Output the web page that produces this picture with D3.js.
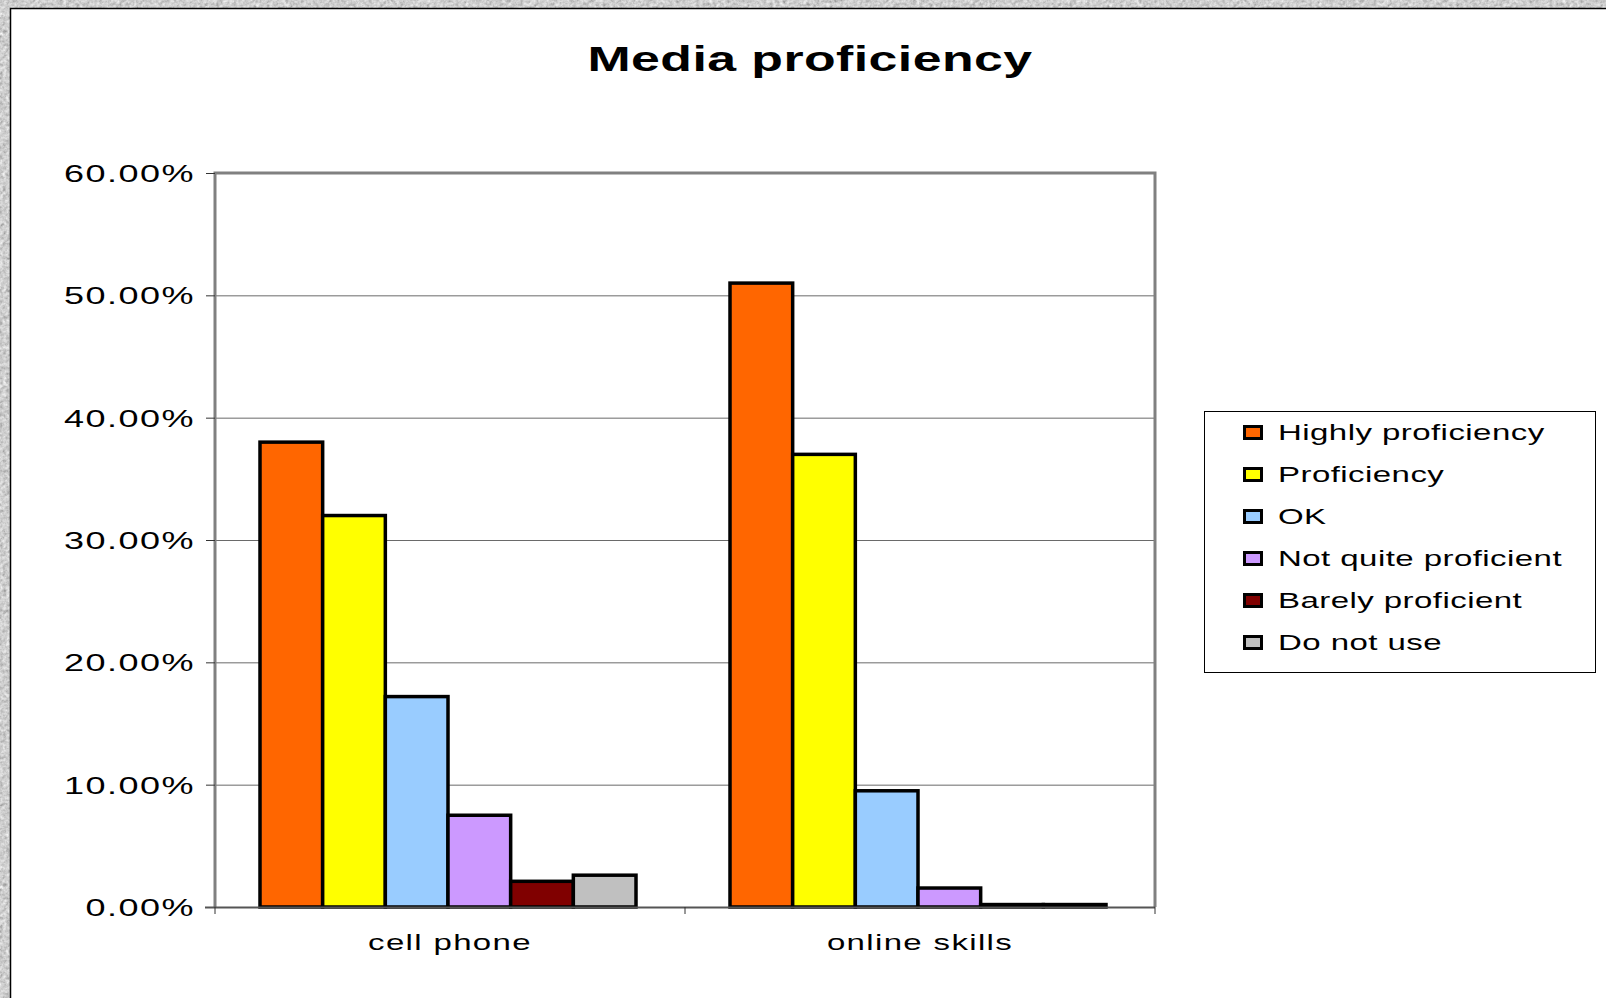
<!DOCTYPE html>
<html>
<head>
<meta charset="utf-8">
<script src="https://cdn.jsdelivr.net/npm/d3@7"></script>
<style>
  html, body { margin: 0; padding: 0; background: #a9a9a9; }
  svg { display: block; }
  text { font-family: "Liberation Sans", Arial, sans-serif; fill: #000; }
</style>
</head>
<body>
<svg id="chart" width="1606" height="998"></svg>
<script>
// Chart data
const categories = ["cell phone", "online skills"];
const seriesNames = ["Highly proficiency", "Proficiency", "OK", "Not quite proficient", "Barely proficient", "Do not use"];
const seriesColors = ["#FF6600", "#FFFF00", "#99CCFF", "#CC99FF", "#800000", "#C0C0C0"];
const cellPhoneValues = [0.38, 0.32, 0.172, 0.075, 0.021, 0.026];
const onlineSkillsValues = [0.51, 0.37, 0.095, 0.0155, 0.002, 0.002];
const yTickValues = [0, 0.1, 0.2, 0.3, 0.4, 0.5, 0.6];
const titleText = "Media proficiency";

const valuesByCategory = [cellPhoneValues, onlineSkillsValues];
const rows = categories.map((c, i) => ({
  category: c,
  values: seriesNames.map((s, j) => ({ series: s, color: seriesColors[j], value: valuesByCategory[i][j] }))
}));

const svg = d3.select("#chart");
const W = 1606, H = 998;
const SX = 1.5; // wide text rendering

// Textured slide background
const defs = svg.append("defs");
const f = defs.append("filter").attr("id", "granite").attr("x", 0).attr("y", 0).attr("width", "100%").attr("height", "100%");
f.append("feTurbulence").attr("type", "fractalNoise").attr("baseFrequency", 0.3).attr("numOctaves", 3).attr("result", "n");
f.append("feColorMatrix").attr("in", "n").attr("type", "matrix")
  .attr("values", "0.4 0.4 0.4 0 0.02  0.4 0.4 0.4 0 0.02  0.4 0.4 0.4 0 0.02  0 0 0 0 1");
svg.append("rect").attr("width", W).attr("height", H).attr("filter", "url(#granite)");

// White chart panel
svg.append("rect").attr("x", 10.5).attr("y", 8.5).attr("width", W).attr("height", H)
  .attr("fill", "#fff").attr("stroke", "#000").attr("stroke-width", 1.5);

// Plot area
const plot = { left: 215, right: 1155, top: 173, bottom: 907 };

const x0 = d3.scaleBand().domain(categories).range([plot.left, plot.right]).padding(0);
const x1 = d3.scaleBand().domain(seriesNames).range([-2, x0.bandwidth() - 2]).paddingInner(0).paddingOuter(0.75);
const y = d3.scaleLinear().domain([0, 0.6]).range([plot.bottom, plot.top]);

// Gridlines
svg.append("g").selectAll("line").data(yTickValues.filter(v => v > 0 && v < 0.6)).join("line")
  .attr("x1", plot.left).attr("x2", plot.right)
  .attr("y1", d => y(d) + 0.5).attr("y2", d => y(d) + 0.5)
  .attr("stroke", "#6a6a6a").attr("stroke-width", 1);

// Bars
svg.append("g").selectAll("g").data(rows).join("g")
  .attr("transform", d => `translate(${x0(d.category)},0)`)
  .selectAll("rect").data(d => d.values).join("rect")
  .attr("x", d => x1(d.series))
  .attr("width", x1.bandwidth())
  .attr("y", d => y(d.value))
  .attr("height", d => y(0) - y(d.value))
  .attr("fill", d => d.color)
  .attr("stroke", "#000").attr("stroke-width", 3.5).attr("stroke-linejoin", "miter");

// Plot frame (top, left, right)
svg.append("path")
  .attr("d", `M${plot.left},${plot.bottom}V${plot.top}H${plot.right}V${plot.bottom}`)
  .attr("fill", "none").attr("stroke", "#808080").attr("stroke-width", 3);

// Y axis
const yAxis = svg.append("g").attr("transform", `translate(${plot.left},0)`)
  .call(d3.axisLeft(y).tickValues(yTickValues).tickFormat(d3.format(".2%")).tickSize(9).tickSizeOuter(0));
yAxis.select(".domain").remove();
yAxis.selectAll(".tick line").attr("stroke", "#333").attr("stroke-width", 1);
yAxis.selectAll(".tick text")
  .attr("x", -20 / SX).attr("dy", "0.36em")
  .attr("transform", `scale(${SX},1)`)
  .style("font-size", "24px").style("letter-spacing", "1px").attr("fill", "#000");

// X axis
const xAxis = svg.append("g").attr("transform", `translate(0,${plot.bottom})`)
  .call(d3.axisBottom(x0).tickSize(0).tickSizeOuter(0));
xAxis.select(".domain").attr("stroke", "#555").attr("stroke-width", 2)
  .attr("d", `M${plot.left - 10},0.5H${plot.right}`);
xAxis.selectAll(".tick text")
  .attr("y", 43).attr("dy", 0).attr("x", 0)
  .attr("text-anchor", "middle")
  .attr("transform", `scale(${SX},1)`)
  .style("font-size", "22px").style("letter-spacing", "0.9px").attr("fill", "#000");
// Category boundary tick marks
xAxis.append("g").selectAll("line")
  .data([plot.left, x0(categories[1]), plot.right]).join("line")
  .attr("x1", d => d).attr("x2", d => d).attr("y1", 0).attr("y2", 7)
  .attr("stroke", "#333").attr("stroke-width", 1);

// Title
svg.append("g").attr("transform", `translate(810,71) scale(1.48,1)`)
  .append("text").attr("text-anchor", "middle")
  .style("font-size", "35px").style("font-weight", "bold").style("letter-spacing", "0.3px")
  .text(titleText);

// Legend
const legend = svg.append("g");
legend.append("rect").attr("x", 1204.5).attr("y", 411.5).attr("width", 391).attr("height", 261)
  .attr("fill", "#fff").attr("stroke", "#000").attr("stroke-width", 1);
const legendRow = d3.scalePoint().domain(seriesNames).range([440, 650]);
const items = legend.selectAll("g.item").data(seriesNames.map((s, i) => ({ s, c: seriesColors[i] }))).join("g")
  .attr("class", "item");
items.append("rect")
  .attr("x", 1244.5).attr("y", d => legendRow(d.s) - 13.5)
  .attr("width", 17).attr("height", 12)
  .attr("fill", d => d.c).attr("stroke", "#000").attr("stroke-width", 3);
items.append("g").attr("transform", d => `translate(1278,${legendRow(d.s)}) scale(${SX},1)`)
  .append("text").style("font-size", "22px").style("letter-spacing", "0.3px")
  .text(d => d.s);
</script>
</body>
</html>
